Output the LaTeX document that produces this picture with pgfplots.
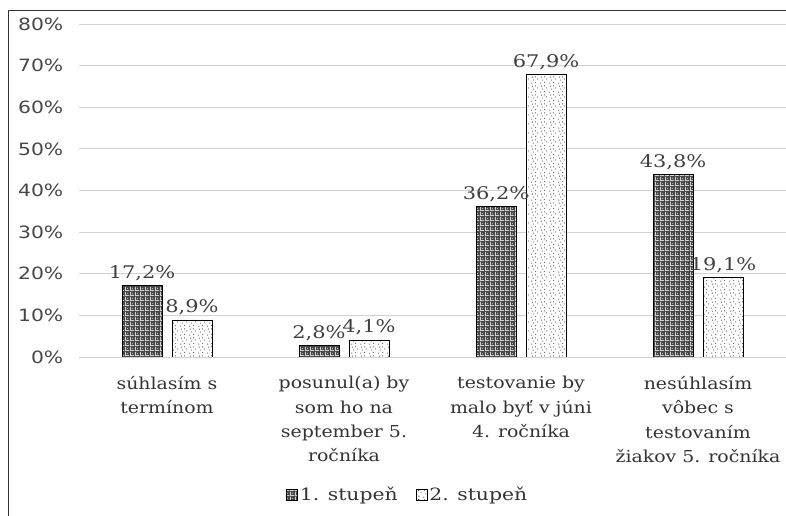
\documentclass[border=0pt]{standalone}
\usepackage{fontspec}
\setmainfont{DejaVu Serif}
\newfontfamily\ticks[FakeStretch=1.2]{DejaVu Sans}
\newfontfamily\vals[FakeStretch=1.2]{DejaVu Serif}
\newfontfamily\cats[FakeStretch=1.15]{DejaVu Serif}
\usepackage{pgfplots}
\pgfplotsset{compat=1.18}
\usetikzlibrary{patterns,patterns.meta}

% scattered dots for the 2nd series
\tikzdeclarepattern{
  name=sparsedots, type=uncolored,
  bounding box={(0bp,0bp) and (9bp,9bp)},
  tile size={(9bp,9bp)},
  code={
    \fill (0.8bp,0.9bp) circle (0.55bp);
    \fill (5.2bp,1.8bp) circle (0.55bp);
    \fill (2.9bp,4.3bp) circle (0.55bp);
    \fill (7.4bp,5.6bp) circle (0.55bp);
    \fill (1.6bp,7.6bp) circle (0.55bp);
    \fill (5.0bp,7.9bp) circle (0.55bp);
  }
}
% light lattice for the 1st series
\tikzdeclarepattern{
  name=lattice, type=uncolored,
  bounding box={(0bp,0bp) and (5bp,5bp)},
  tile size={(5bp,5bp)},
  code={
    \fill (0bp,0bp) rectangle (1bp,5bp);
    \fill (0bp,0bp) rectangle (5bp,1bp);
    \fill (3bp,3bp) circle (0.6bp);
  }
}

\begin{document}
\begin{tikzpicture}
\path[use as bounding box] (0,0) rectangle (786bp,516bp);
\draw[black!80, line width=0.8bp] (8bp,0bp) -- (8bp,506bp) -- (786bp,506bp);
\begin{axis}[
    at={(78.5bp,159bp)}, anchor=south west,
    scale only axis,
    width=708bp, height=333bp,
    xmin=-0.5, xmax=3.5,
    ymin=0, ymax=80,
    axis line style={draw=none},
    ymajorgrids=true,
    grid style={black!18, line width=0.9bp},
    ytick={0,10,...,80},
    /pgf/number format/assume math mode=true,
    yticklabel={\pgfmathprintnumber{\tick}\%},
    yticklabel style={font=\ticks\fontsize{17}{17}\selectfont, text=black!72, anchor=east, inner sep=0pt, xshift=-15bp},
    xtick={0,1,2,3},
    xticklabels={{súhlasím s\\termínom},{posunul(a) by\\som ho na\\september 5.\\ročníka},{testovanie by\\malo byť v júni\\4. ročníka},{nesúhlasím\\vôbec s\\testovaním\\žiakov 5. ročníka}},
    xticklabel style={font=\cats\fontsize{16.5}{24.5}\selectfont, text=black!80, align=center, anchor=north, inner sep=0pt, yshift=-19bp},
    major tick length=0pt,
    ybar=10bp, bar width=40bp,
    nodes near coords={\pgfmathprintnumber[fixed,fixed zerofill,precision=1,use comma]{\pgfplotspointmeta}\%},
    every node near coord/.append style={font=\vals\fontsize{17.5}{17.5}\selectfont, text=black!75, yshift=1bp},
    legend style={at={(0.465,-0.414)}, anchor=center, draw=none, fill=none,
      legend columns=2, font=\vals\fontsize{17}{17}\selectfont, text=black!80,
      /tikz/every even column/.append style={column sep=16bp}},
    legend image code/.code={\draw[#1, line width=0.7bp] (0bp,-5.5bp) rectangle (11bp,5.5bp);},
]
\addplot[draw=black, line width=0.8bp, fill=black!72, postaction={pattern=lattice, pattern color=white!82!black}]
  coordinates {(0,17.2) (1,2.8) (2,36.2) (3,43.8)};
\addplot[draw=black, line width=0.8bp, fill=white, postaction={pattern=sparsedots, pattern color=black!85}]
  coordinates {(0,8.9) (1,4.1) (2,67.9) (3,19.1)};
\legend{1. stupeň, 2. stupeň}
\end{axis}
\end{tikzpicture}
\end{document}
